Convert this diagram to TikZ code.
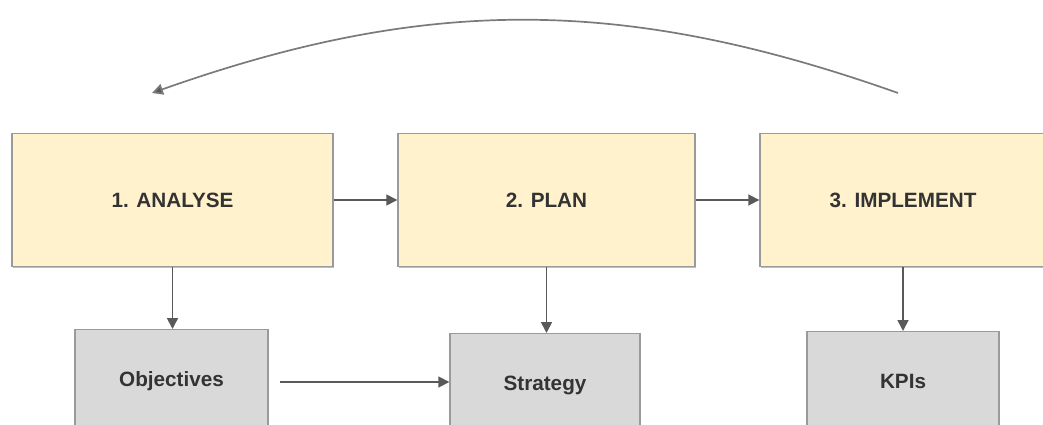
\documentclass[tikz,border=0pt]{standalone}
\usepackage{fontspec}
\setmainfont{Liberation Sans}
\usetikzlibrary{arrows.meta,shadows}
\definecolor{stepfill}{HTML}{FFF2CC}
\definecolor{subfill}{HTML}{D9D9D9}
\definecolor{boxline}{HTML}{9A9A9A}
\definecolor{inkdark}{HTML}{333333}
\definecolor{arrowgray}{HTML}{595959}
\definecolor{loopgray}{HTML}{7A7A7A}
\tikzset{
  labelfont/.style={font=\fontsize{20.7}{24}\selectfont\bfseries, text=inkdark},
  phasebox/.style={draw=boxline, line width=1.4pt, fill=stepfill, labelfont,
    drop shadow={shadow xshift=1pt, shadow yshift=-1.5pt, opacity=0.25, fill=black},
    inner sep=0pt, minimum height=133pt},
  itembox/.style={draw=boxline, line width=1.4pt, fill=subfill, labelfont,
    drop shadow={shadow xshift=1pt, shadow yshift=-1.5pt, opacity=0.25, fill=black},
    anchor=north, inner xsep=0pt, inner ysep=0pt, text height=57pt, text depth=60pt},
  flow/.style={draw=arrowgray, line width=1.7pt, -{Triangle[length=11pt,width=11pt]}},
  loop/.style={draw=loopgray, line width=1.7pt, -{Triangle[length=11pt,width=11pt,fill=arrowgray]}}
}
\begin{document}
\begin{tikzpicture}[x=1pt,y=-1pt]
  \useasboundingbox (0,0) rectangle (1043,425);
  \clip (0,0) rectangle (1043,425);

  % the three phases
  \node[phasebox, minimum width=321pt] (analyse) at (172.5,200) {1. ANALYSE};
  \node[phasebox, minimum width=297pt] (plan) at (546.5,200) {2. PLAN};
  \node[phasebox, minimum width=286pt] (implement) at (903,200) {3. IMPLEMENT};

  % outputs of each phase
  \node[itembox, minimum width=193pt] (objectives) at (171.5,329) {Objectives};
  \node[itembox, minimum width=190pt] (strategy) at (545,333) {Strategy};
  \node[itembox, minimum width=192pt] (kpis) at (903,331) {KPIs};

  % phase to phase
  \draw[flow] (analyse.east) -- (plan.west);
  \draw[flow] (plan.east) -- (implement.west);

  % phase to output
  \draw[flow] (analyse.south) -- (analyse.south |- objectives.north);
  \draw[flow] (plan.south) -- (plan.south |- strategy.north);
  \draw[flow] (implement.south) -- (implement.south |- kpis.north);

  % objectives feed the strategy
  \coordinate (objout) at (280,382);
  \draw[flow] (objout) -- (objout -| strategy.west);

  % feedback loop back to the analysis
  \coordinate (loopstart) at (898,93);
  \coordinate (loopend) at (152,93);
  \draw[loop] (loopstart) to[bend right=19.5] (loopend);
\end{tikzpicture}
\end{document}
